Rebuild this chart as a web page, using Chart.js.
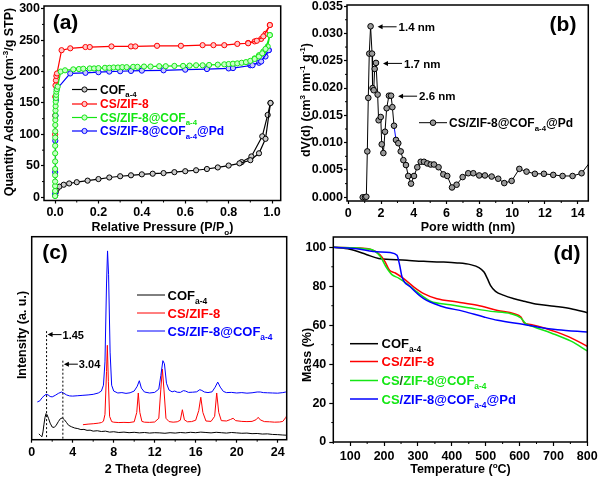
<!DOCTYPE html>
<html>
<head>
<meta charset="utf-8">
<script src="https://cdn.jsdelivr.net/npm/chart.js@4.4.0/dist/chart.umd.min.js"></script>
<style>
  html, body { margin: 0; padding: 0; background: #fff; }
  #wrap { position: relative; width: 600px; height: 478px; background: #fff; }
  #wrap canvas { position: absolute; left: 0; top: 0; }
</style>
</head>
<body>
<div id="wrap">
  <canvas id="cA" width="600" height="478"></canvas>
  <canvas id="cB" width="600" height="478"></canvas>
  <canvas id="cC" width="600" height="478"></canvas>
  <canvas id="cD" width="600" height="478"></canvas>
</div>
<script>
// ---------- (a) N2 isotherms ----------
var cofAdsX = [0.001,0.003,0.008,0.02,0.04,0.065,0.1,0.15,0.2,0.25,0.3,0.35,0.4,0.45,0.5,0.55,0.6,0.65,0.7,0.75,0.8,0.85,0.9,0.94,0.97,0.993];
var cofAdsY = [3,8,13,17,20,22,24,26.5,29,31.5,33.5,35,36.5,37.5,38.5,40,41.5,43,45,47.5,50.5,54,59,70,93,150];
var cofDesX = [0.993,0.98,0.955,0.905,0.86];
var cofDesY = [150,131,97,65,56];

var zifAdsX = [0.0002,0.0005,0.001,0.002,0.004,0.006,0.009,0.03,0.07,0.14,0.16,0.26,0.35,0.37,0.47,0.58,0.68,0.73,0.78,0.84,0.89,0.93,0.96,0.99];
var zifAdsY = [100,130,160,178,186,193,197,234,237,239,239,240,240,240,241,241,242,242,242,244,245,249,256,274];
var zifDesX = [0.99,0.97,0.95,0.92,0.89];
var zifDesY = [274,260,252,248,245.5];

var cofZifAdsX = [0.0001,0.00015,0.0002,0.00025,0.0003,0.00035,0.0004,0.0005,0.0006,0.0007,0.0008,0.001,0.0012,0.0015,0.002,0.0025,0.003,0.004,0.005,0.006,0.008,0.012,0.026,0.046,0.084,0.11,0.13,0.16,0.18,0.2,0.23,0.25,0.27,0.29,0.31,0.33,0.36,0.38,0.41,0.44,0.48,0.51,0.55,0.59,0.62,0.65,0.68,0.71,0.75,0.78,0.8,0.82,0.84,0.86,0.88,0.9,0.92,0.94,0.955,0.97,0.99];
var cofZifAdsY = [2,10,18,25,35,45,57,70,82,95,105,115,123,130,138,145,152,158,163,168,172,176,200,202,203.5,204,204.5,205,205,205.5,206,206,206.5,206.5,207,207,207.5,207.5,208,208,208.5,208.5,209,209,209.5,210,210,210.5,211,211.5,212,212.5,213,214,215,217,220,224,229,236,258];
var cofZifDesX = [0.99,0.98,0.96,0.94,0.92];
var cofZifDesY = [258,240,232,226,221];

var pdAdsX = [0.0002,0.0005,0.001,0.002,0.004,0.008,0.07,0.14,0.2,0.25,0.3,0.35,0.4,0.5,0.6,0.7,0.8,0.82,0.91,0.95,0.985];
var pdAdsY = [5,40,90,130,155,172,197,198,199,200,200.5,201,201.5,202,203,204,205,205.5,210,216,234];
var pdDesX = [0.985,0.97,0.94,0.9];
var pdDesY = [234,224,214,210];

var aXTicks = [0,0.2,0.4,0.6,0.8,1.0];
var aXMinor = [0.1,0.3,0.5,0.7,0.9];
var aYTicks = [0,50,100,150,200,250,300];
var aYMinor = [25,75,125,175,225,275];

// ---------- (b) pore size distribution ----------
var poreX = [0.88,1.02,1.1,1.16,1.22,1.28,1.36,1.45,1.48,1.55,1.61,1.69,1.79,1.85,1.98,2.04,2.14,2.24,2.34,2.48,2.61,2.69,2.79,2.91,3.05,3.2,3.36,3.52,3.66,3.83,4.01,4.21,4.42,4.62,4.82,5.03,5.23,5.51,5.8,6.04,6.33,6.61,6.98,7.32,7.63,7.99,8.34,8.75,9.15,9.52,9.97,10.44,10.88,11.39,11.94,12.51,13.08,13.69,14.24,14.9];
var poreY = [0,0,0.0001,0.0084,0.0182,0.0263,0.0313,0.0263,0.0200,0.0196,0.0235,0.0246,0.0188,0.0141,0.0147,0.0097,0.0081,0.0120,0.0163,0.0186,0.0186,0.0165,0.0131,0.0105,0.0099,0.0084,0.0068,0.0059,0.0039,0.0025,0.0039,0.0055,0.0065,0.0065,0.0062,0.0060,0.0060,0.0055,0.0042,0.0039,0.0018,0.0023,0.0037,0.0044,0.0044,0.0040,0.0040,0.0038,0.0034,0.0026,0.0030,0.0052,0.0047,0.0043,0.0043,0.0041,0.0039,0.0039,0.0044,0.0070];
var peakX = [1.36,1.69,2.61];
var peakLabels = ['1.4 nm','1.7 nm','2.6 nm'];
var blueSegFrom = 2.79;
var bXTicks = [0,2,4,6,8,10,12,14];
var bXMinor = [1,3,5,7,9,11,13];
var bYTicks = [0,0.005,0.010,0.015,0.020,0.025,0.030,0.035];
var bYMinor = [0.0025,0.0075,0.0125,0.0175,0.0225,0.0275,0.0325];

// ---------- (c) XRD ----------
var xrdCofX = [0.7,0.85,1.0,1.1,1.2,1.3,1.4,1.5,1.65,1.8,2.0,2.2,2.4,2.6,2.8,3.0,3.2,3.4,3.6,3.9,4.2,4.5,4.8,5.1,5.4,5.7,6.0,6.4,6.8,7.2,7.6,8.0,8.5,9,9.5,10,10.5,11,11.5,12,12.5,13,13.5,14,14.5,15,15.5,16,16.5,17,17.5,18,18.5,19,19.5,20,20.5,21,21.5,22,22.5,23,23.5,24,24.5,24.9];
var xrdCofY = [3.0,2.2,1.5,4,8,11.5,13.4,12.8,10.8,8.5,6.5,6.3,7.5,9.3,10.8,11.2,10.2,8.8,7.4,6.6,6.0,5.7,5.2,5.3,4.8,4.9,4.4,4.6,4.2,4.4,3.9,4.1,3.7,3.9,3.6,3.8,3.5,3.7,3.4,3.6,3.5,3.3,3.6,3.4,3.7,3.5,3.8,3.6,3.9,3.7,3.5,3.8,3.6,3.4,3.7,3.5,3.3,3.4,3.1,3.2,2.9,3.0,2.7,2.6,2.4,2.3];
var xrdZifX = [5.0,5.5,6.0,6.5,6.8,7.0,7.15,7.3,7.38,7.48,7.6,7.8,8.0,8.5,9.0,9.5,10.0,10.25,10.4,10.55,10.75,11.0,11.5,12.0,12.4,12.6,12.75,12.9,13.1,13.4,13.8,14.2,14.5,14.7,14.9,15.2,15.6,16.0,16.3,16.5,16.7,17.0,17.5,17.85,18.05,18.25,18.5,19.0,19.4,19.65,19.9,20.5,21.0,21.5,21.9,22.1,22.3,22.7,23.2,23.7,24.2,24.5,24.8,25];
var xrdZifY = [7.7,8.0,8.2,8.5,8.8,9.5,13,35,48.5,30,12,9.3,9.0,8.8,8.9,8.8,9.2,14,24,14,9.4,9.0,8.9,9.1,11,26,36.3,26,11,9.3,9.0,9.2,10,15.4,10.2,9.2,9.3,10,15,21.8,14,9.6,9.4,12,24,14,9.8,9.6,10.4,11,9.8,9.4,9.3,9.4,10.3,11.5,10.2,9.3,9.2,9.0,9.1,9.4,11.5,13.5];
var xrdCompX = [0.55,0.8,1.0,1.2,1.4,1.6,1.8,2.0,2.3,2.6,2.9,3.1,3.4,3.7,4.0,4.5,5.0,5.5,6.0,6.5,6.8,7.0,7.15,7.3,7.4,7.5,7.65,7.8,8.0,8.4,8.8,9.2,9.6,10.0,10.3,10.5,10.7,11.0,11.5,12.0,12.4,12.6,12.8,12.95,13.15,13.4,13.7,13.95,14.2,14.5,14.8,15.0,15.3,15.7,16.1,16.4,16.6,16.85,17.2,17.6,17.9,18.15,18.4,18.7,19.0,19.5,20.0,20.5,21.0,21.5,22.0,22.3,22.6,23.0,23.5,24.0,24.5,24.8,25];
var xrdCompY = [19.4,20,21.5,22.5,23.3,23.0,22.2,22.0,22.8,23.8,24.5,24.0,23.0,22.5,22.4,22.6,22.8,23.0,23.3,24,25,28,40,80,97,85,45,28,25,24.0,24.2,23.8,24.1,25,27.5,30.3,26.5,24.5,24.0,24.3,26,33,40.6,39,29,25.5,24.6,25,24.4,24.3,25.2,25,24.3,24.4,24.6,25.7,25.3,24.5,24.2,24.6,27,29.6,27,24.8,24.2,24.3,24.0,24.2,23.9,24.1,24.5,24.5,24.2,24.1,24.0,23.9,24.2,24.5,24.4];
var markX = [1.45, 3.04];
var markTop = [55.8, 40.6];
var markLabels = ['1.45', '3.04'];
var cXTicks = [0,4,8,12,16,20,24];
var cXMinor = [2,6,10,14,18,22];

// ---------- (d) TGA ----------
var tgaCofT = [50,99,149,184,218,267,317,366,416,455,480,495,505,514,529,554,584,613,653,702,752,800];
var tgaCofM = [100,99,96.2,94.2,93.8,93.3,92.8,92.5,92,91.1,89.6,87.3,83.9,80.5,77.4,75.3,73.6,72.3,70.7,69.7,68.5,66.4];
var tgaZifT = [50,119,159,188,203,216,233,258,288,317,356,416,475,535,584,604,613,633,673,712,752,800];
var tgaZifM = [100,99.7,99,96.2,92.5,88.2,86.8,83.9,79.6,76.2,73.6,71.9,70.2,67.6,65.9,64.2,61.3,60.3,58.6,56.3,53.5,49.2];
var tgaCompT = [50,159,188,206,223,243,267,297,337,396,455,515,574,604,618,643,693,752,800];
var tgaCompM = [100,99,95.5,89.9,86,84.2,81.3,77.1,72.3,70.5,68.8,67.1,65.9,63.7,60.8,59.1,56,51.8,46.8];
var tgaPdT = [50,119,168,218,238,246,253,278,317,366,435,495,535,613,653,712,800];
var tgaPdM = [100,99.3,97.9,97.3,95.9,90.8,84.8,79.6,73.6,69.9,67.1,64.2,62.5,60.3,59.1,57.7,56.5];
var dXTicks = [100,200,300,400,500,600,700,800];
var dXMinor = [50,150,250,350,450,550,650,750];
var dYTicks = [0,20,40,60,80,100];
var dYMinor = [10,30,50,70,90];

var FONT = '"Liberation Sans", Arial, Helvetica, sans-serif';
Chart.defaults.font.family = FONT;
Chart.defaults.font.weight = 'bold';
Chart.defaults.color = '#000';

var RED = '#ff0000', GREEN = '#14e614', BLUE = '#0000ff';

function zip(xs, ys) { return xs.map(function (x, i) { return { x: x, y: ys[i] }; }); }

function mkScale(o) {
  return {
    type: 'linear', min: o.min, max: o.max,
    afterBuildTicks: function (s) { s.ticks = o.ticks.map(function (v) { return { value: v }; }); },
    afterFit: function (s) {
      if (o.w != null) s.width = o.w;
      if (o.h != null) s.height = o.h;
      s.paddingLeft = 0; s.paddingRight = 0; s.paddingTop = 0; s.paddingBottom = 0;
    },
    border: { display: false },
    grid: { display: true, drawOnChartArea: false, drawTicks: o.noTicks ? false : true,
            tickLength: o.tl || 3, tickColor: '#000', tickWidth: 1.2, color: '#000' },
    ticks: { display: o.noLabels ? false : true, padding: o.pad == null ? 2 : o.pad, color: '#000',
             font: { size: 12.5, weight: 'bold' }, maxRotation: 0, autoSkip: false,
             callback: o.fmt || function (v) { return v; } }
  };
}

function drawRich(ctx, parts, x, y, size, align, color) {
  var w = 0;
  var items = parts.map(function (p) {
    var s = p[1] ? size * 0.65 : size;
    ctx.font = 'bold ' + s + 'px ' + FONT;
    var mw = ctx.measureText(p[0]).width;
    w += mw;
    return { t: p[0], s: s, mw: mw, dy: p[1] === 'sub' ? size * 0.3 : (p[1] === 'sup' ? -size * 0.4 : 0), col: p[2] || color };
  });
  var cx = align === 'center' ? x - w / 2 : (align === 'right' ? x - w : x);
  ctx.textAlign = 'left';
  ctx.textBaseline = 'alphabetic';
  var base = y + size * 0.36;
  items.forEach(function (it) {
    ctx.font = 'bold ' + it.s + 'px ' + FONT;
    ctx.fillStyle = it.col;
    ctx.fillText(it.t, cx, base + it.dy);
    cx += it.mw;
  });
}

function vTitle(ctx, parts, cx, cy, size) {
  ctx.save();
  ctx.translate(cx, cy);
  ctx.rotate(-Math.PI / 2);
  drawRich(ctx, parts, 0, 0, size, 'center', '#000');
  ctx.restore();
}

function frame(c) {
  var a = c.chartArea, ctx = c.ctx;
  ctx.save();
  ctx.strokeStyle = '#000';
  ctx.lineWidth = 1.5;
  ctx.strokeRect(a.left, a.top, a.right - a.left, a.bottom - a.top);
  ctx.restore();
}

function minor(c, id, vals, len) {
  var s = c.scales[id], a = c.chartArea, ctx = c.ctx;
  ctx.save();
  ctx.strokeStyle = '#000';
  ctx.lineWidth = 1;
  ctx.beginPath();
  vals.forEach(function (v) {
    var p = s.getPixelForValue(v);
    if (s.isHorizontal()) { ctx.moveTo(p, a.bottom); ctx.lineTo(p, a.bottom + len); }
    else { ctx.moveTo(a.left, p); ctx.lineTo(a.left - len, p); }
  });
  ctx.stroke();
  ctx.restore();
}

function legendRow(ctx, x0, x1, y, color, width, marker, parts, size, tx) {
  ctx.save();
  ctx.strokeStyle = color;
  ctx.lineWidth = width;
  ctx.beginPath(); ctx.moveTo(x0, y); ctx.lineTo(x1, y); ctx.stroke();
  if (marker) {
    ctx.beginPath();
    ctx.arc((x0 + x1) / 2, y, marker.r, 0, Math.PI * 2);
    ctx.fillStyle = marker.fill; ctx.fill();
    ctx.lineWidth = 1; ctx.strokeStyle = marker.stroke; ctx.stroke();
  }
  drawRich(ctx, parts, tx, y, size, 'left', color);
  ctx.restore();
}

function arrowLeft(ctx, tip, end, y) {
  ctx.save();
  ctx.strokeStyle = '#000'; ctx.fillStyle = '#000'; ctx.lineWidth = 1;
  ctx.beginPath(); ctx.moveTo(tip + 3, y); ctx.lineTo(end, y); ctx.stroke();
  ctx.beginPath(); ctx.moveTo(tip, y); ctx.lineTo(tip + 5, y - 2.5); ctx.lineTo(tip + 5, y + 2.5); ctx.closePath(); ctx.fill();
  ctx.restore();
}

function panelLabel(ctx, txt, x, y) {
  ctx.save();
  ctx.font = 'bold 21px ' + FONT;
  ctx.fillStyle = '#000';
  ctx.textAlign = 'center';
  ctx.textBaseline = 'middle';
  ctx.fillText(txt, x, y);
  ctx.restore();
}

var COF = [['COF'], ['a-4', 'sub']];
var ZIF = [['CS/ZIF-8']];
var COMP = [['CS/ZIF-8@COF'], ['a-4', 'sub']];
var COMPPD = [['CS/ZIF-8@COF'], ['a-4', 'sub'], ['@Pd']];

// ================= (a) =================
function isoSet(x, y, col, fill) {
  return { data: zip(x, y), showLine: true, borderColor: col, borderWidth: 1.2, tension: 0,
           pointRadius: 2.6, pointBorderWidth: 1, pointBorderColor: col, pointBackgroundColor: fill };
}
new Chart(document.getElementById('cA'), {
  type: 'scatter',
  data: { datasets: [
    isoSet(cofZifAdsX, cofZifAdsY, GREEN, '#c8ffc8'),
    isoSet(cofZifDesX, cofZifDesY, GREEN, '#c8ffc8'),
    isoSet(pdAdsX, pdAdsY, BLUE, '#c8c8ff'),
    isoSet(pdDesX, pdDesY, BLUE, '#c8c8ff'),
    isoSet(zifAdsX, zifAdsY, RED, '#ffc8c8'),
    isoSet(zifDesX, zifDesY, RED, '#ffc8c8'),
    isoSet(cofAdsX, cofAdsY, '#000', '#cccccc'),
    isoSet(cofDesX, cofDesY, '#000', '#cccccc')
  ] },
  options: {
    responsive: false, animation: false, devicePixelRatio: 1,
    layout: { padding: { left: 0, top: 6, right: 319.3, bottom: 247.5 } },
    plugins: { legend: { display: false }, tooltip: { enabled: false } },
    scales: {
      x: mkScale({ min: -0.051, max: 1.04, ticks: aXTicks, h: 30, fmt: function (v) { return v.toFixed(1); } }),
      y: mkScale({ min: -5.1, max: 304.3, ticks: aYTicks, w: 44, pad: 1 })
    }
  },
  plugins: [{ id: 'decA', afterDraw: function (c) {
    var ctx = c.ctx;
    frame(c);
    minor(c, 'x', aXMinor, 2);
    minor(c, 'y', aYMinor, 2);
    drawRich(ctx, [['Relative Pressure (P/P'], ['o', 'sub'], [')']], 162.5, 226.5, 12.5, 'center', '#000');
    vTitle(ctx, [['Quantity Adsorbed (cm'], ['-3', 'sup'], ['/g STP)']], 8.5, 102, 12.5);
    panelLabel(ctx, '(a)', 65.5, 23.5);
    legendRow(ctx, 72, 97, 89.5, '#000', 1.2, { r: 2.6, fill: '#cccccc', stroke: '#000' }, COF, 12, 100);
    legendRow(ctx, 72, 97, 104, RED, 1.2, { r: 2.6, fill: '#ffc8c8', stroke: RED }, ZIF, 12, 100);
    legendRow(ctx, 72, 97, 117.5, GREEN, 1.2, { r: 2.6, fill: '#c8ffc8', stroke: GREEN }, COMP, 12, 100);
    legendRow(ctx, 72, 97, 131, BLUE, 1.2, { r: 2.6, fill: '#c8c8ff', stroke: BLUE }, COMPPD, 12, 100);
  } }]
});

// ================= (b) =================
new Chart(document.getElementById('cB'), {
  type: 'scatter',
  data: { datasets: [{
    data: zip(poreX, poreY), showLine: true, borderColor: '#000', borderWidth: 1, tension: 0,
    pointRadius: 2.8, pointBorderWidth: 1, pointBorderColor: '#000', pointBackgroundColor: '#9a9a9a',
    segment: { borderColor: function (s) { return s.p0.parsed.x === blueSegFrom ? BLUE : undefined; } }
  }] },
  options: {
    responsive: false, animation: false, devicePixelRatio: 1,
    layout: { padding: { left: 300, top: 5, right: 11.7, bottom: 247 } },
    plugins: { legend: { display: false }, tooltip: { enabled: false } },
    scales: {
      x: mkScale({ min: -0.08, max: 14.65, ticks: bXTicks, h: 30 }),
      y: mkScale({ min: -0.00068, max: 0.0352, ticks: bYTicks, w: 47, pad: 1, fmt: function (v) { return v.toFixed(3); } })
    }
  },
  plugins: [{ id: 'decB', afterDraw: function (c) {
    var ctx = c.ctx, xs = c.scales.x, ys = c.scales.y;
    frame(c);
    minor(c, 'x', bXMinor, 2);
    minor(c, 'y', bYMinor, 2);
    drawRich(ctx, [['Pore width (nm)']], 468, 226.5, 12.5, 'center', '#000');
    vTitle(ctx, [['dV(d) (cm'], ['3', 'sup'], [' nm'], ['-1', 'sup'], [' g'], ['-1', 'sup'], [')']], 305, 100, 12.5);
    panelLabel(ctx, '(b)', 563, 25);
    peakX.forEach(function (px, i) {
      var yv = poreY[poreX.indexOf(px)];
      var tip = xs.getPixelForValue(px) + 7, y = ys.getPixelForValue(yv) + 0.5;
      arrowLeft(ctx, tip, tip + 19, y);
      drawRich(ctx, [[peakLabels[i]]], tip + 21, y, 11.5, 'left', '#000');
    });
    legendRow(ctx, 419, 447, 122.7, '#000', 1, { r: 2.8, fill: '#9a9a9a', stroke: '#000' }, COMPPD, 12, 449);
  } }]
});

// ================= (c) =================
function lineSet(x, y, col, w) {
  return { data: zip(x, y), showLine: true, borderColor: col, borderWidth: w, pointRadius: 0, tension: 0 };
}
new Chart(document.getElementById('cC'), {
  type: 'scatter',
  data: { datasets: [
    lineSet(xrdCompX, xrdCompY, BLUE, 1),
    lineSet(xrdZifX, xrdZifY, RED, 1),
    lineSet(xrdCofX, xrdCofY, '#000', 1)
  ] },
  options: {
    responsive: false, animation: false, devicePixelRatio: 1,
    layout: { padding: { left: 0, top: 236.7, right: 313.3, bottom: 8.3 } },
    plugins: { legend: { display: false }, tooltip: { enabled: false } },
    scales: {
      x: mkScale({ min: 0, max: 24.88, ticks: cXTicks, h: 30 }),
      y: mkScale({ min: 0, max: 104.3, ticks: [], w: 31.7, noTicks: true, noLabels: true })
    }
  },
  plugins: [{ id: 'decC', afterDraw: function (c) {
    var ctx = c.ctx, xs = c.scales.x, ys = c.scales.y, a = c.chartArea;
    frame(c);
    minor(c, 'x', cXMinor, 2);
    drawRich(ctx, [['2 Theta (degree)']], 153, 468, 12.5, 'center', '#000');
    vTitle(ctx, [['Intensity (a. u.)']], 21.5, 335, 12.5);
    panelLabel(ctx, '(c)', 55, 253);
    markX.forEach(function (mx, i) {
      var px = xs.getPixelForValue(mx), top = ys.getPixelForValue(markTop[i]);
      ctx.save();
      ctx.strokeStyle = '#000'; ctx.lineWidth = 1; ctx.setLineDash([2, 2]);
      ctx.beginPath(); ctx.moveTo(px, top); ctx.lineTo(px, a.bottom); ctx.stroke();
      ctx.restore();
      arrowLeft(ctx, px + 1, px + 15, top + 3.5);
      drawRich(ctx, [[markLabels[i]]], px + 16, top + 3.5, 11, 'left', '#000');
    });
    legendRow(ctx, 137, 165, 295, '#000', 1, null, COF, 13, 167.5);
    legendRow(ctx, 137, 165, 313, RED, 1, null, ZIF, 13, 167.5);
    legendRow(ctx, 137, 165, 331, BLUE, 1, null, COMP, 13, 167.5);
  } }]
});

// ================= (d) =================
function tgaSet(x, y, col) {
  return { data: zip(x, y), showLine: true, borderColor: col, borderWidth: 1.5, pointRadius: 0,
           cubicInterpolationMode: 'monotone' };
}
new Chart(document.getElementById('cD'), {
  type: 'scatter',
  data: { datasets: [
    tgaSet(tgaPdT, tgaPdM, BLUE),
    tgaSet(tgaCompT, tgaCompM, GREEN),
    tgaSet(tgaZifT, tgaZifM, RED),
    tgaSet(tgaCofT, tgaCofM, '#000')
  ] },
  options: {
    responsive: false, animation: false, devicePixelRatio: 1,
    layout: { padding: { left: 300, top: 237, right: 12.7, bottom: 6 } },
    plugins: { legend: { display: false }, tooltip: { enabled: false } },
    scales: {
      x: mkScale({ min: 50, max: 800, ticks: dXTicks, h: 30, tl: 4, pad: 3 }),
      y: mkScale({ min: 0, max: 105.3, ticks: dYTicks, w: 33.3, tl: 4, pad: 3 })
    }
  },
  plugins: [{ id: 'decD', afterDraw: function (c) {
    var ctx = c.ctx;
    frame(c);
    minor(c, 'x', dXMinor, 2);
    minor(c, 'y', dYMinor, 2);
    drawRich(ctx, [['Temperature ('], ['o', 'sup'], ['C)']], 460.5, 468, 12.5, 'center', '#000');
    vTitle(ctx, [['Mass (%)']], 306, 355, 12.5);
    panelLabel(ctx, '(d)', 567, 254.5);
    legendRow(ctx, 350, 378, 343.7, '#000', 1.5, null, COF, 13, 381.5);
    legendRow(ctx, 350, 378, 361.5, RED, 1.5, null, ZIF, 13, 381.5);
    legendRow(ctx, 350, 378, 380.5, GREEN, 1.5, null,
      [['CS', null, GREEN], ['/', null, '#1a5a1a'], ['ZIF-8@COF', null, GREEN], ['a-4', 'sub', GREEN]], 13, 381.5);
    legendRow(ctx, 350, 378, 399, BLUE, 1.5, null,
      [['CS', null, GREEN], ['/ZIF-8@COF', null, BLUE], ['a-4', 'sub', BLUE], ['@Pd', null, BLUE]], 13, 381.5);
  } }]
});
</script>
</body>
</html>
